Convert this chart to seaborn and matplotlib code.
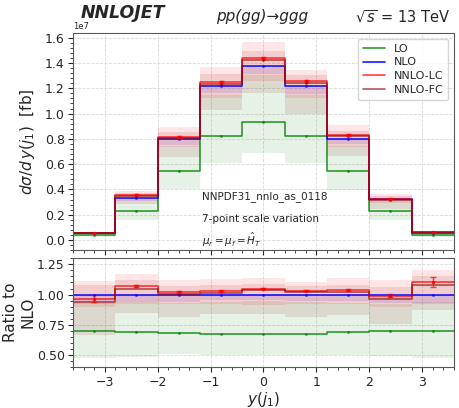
import numpy as np
import pandas as pd
import seaborn as sns
import matplotlib
matplotlib.use("Agg")
import matplotlib.pyplot as plt
from matplotlib.ticker import AutoMinorLocator, MultipleLocator

# bin edges in y(j1)
edges = [-3.6, -2.8, -2.0, -1.2, -0.4, 0.4, 1.2, 2.0, 2.8, 3.6]

# main panel central values, units of 1e7 fb
lo_main = [0.040, 0.232, 0.548, 0.826, 0.930, 0.826, 0.548, 0.232, 0.040]
nlo_main = [0.057, 0.332, 0.800, 1.217, 1.375, 1.217, 0.800, 0.327, 0.057]
lc_main = [0.055, 0.356, 0.817, 1.249, 1.440, 1.257, 0.830, 0.326, 0.063]
fc_main = [0.053, 0.349, 0.805, 1.235, 1.425, 1.240, 0.822, 0.316, 0.062]

# ratio panel central values (to NLO)
lo_ratio = [0.695, 0.692, 0.684, 0.676, 0.673, 0.676, 0.687, 0.695, 0.698]
nlo_ratio = [1.0, 1.0, 1.0, 1.0, 1.0, 1.0, 1.0, 1.0, 1.0]
lc_ratio = [0.967, 1.071, 1.022, 1.027, 1.050, 1.033, 1.038, 0.990, 1.104]
fc_ratio = [0.937, 1.050, 1.005, 1.014, 1.036, 1.019, 1.025, 0.965, 1.082]
lc_err = [0.030, 0.012, 0.008, 0.008, 0.006, 0.007, 0.008, 0.012, 0.038]

# scale variation bands, relative to NLO
lo_band_lo = [0.478, 0.486, 0.505, 0.500, 0.500, 0.500, 0.497, 0.495, 0.478]
lo_band_hi = [0.930, 0.940, 0.930, 0.940, 0.950, 0.940, 0.930, 0.920, 0.940]
nlo_band_lo = [0.920, 0.935, 0.940, 0.955, 0.955, 0.950, 0.945, 0.930, 0.920]
nlo_band_hi = [1.000, 1.000, 1.000, 1.000, 1.000, 1.000, 1.000, 1.000, 1.000]
lc_band_lo = [0.900, 0.920, 0.920, 0.925, 0.916, 0.920, 0.920, 0.900, 0.930]
lc_band_hi = [1.113, 1.168, 1.118, 1.126, 1.137, 1.104, 1.137, 1.118, 1.200]
fc_band_lo = [0.665, 0.850, 0.816, 0.843, 0.843, 0.816, 0.830, 0.760, 0.870]
fc_band_hi = [1.080, 1.120, 1.070, 1.080, 1.090, 1.070, 1.080, 1.060, 1.150]

names = ["LO", "NLO", "NNLO-LC", "NNLO-FC"]
colors = ["green", "blue", "red", "darkred"]
line_alpha = [0.8, 0.9, 0.75, 0.65]

sns.set_style("ticks")
plt.rcParams["font.family"] = ["DejaVu Sans"]
plt.rcParams["axes.edgecolor"] = "0.35"

fig = plt.figure(figsize=(4.59, 4.08), dpi=100)
ax = fig.add_axes([0.159, 0.387, 0.830, 0.532])
rax = fig.add_axes([0.159, 0.100, 0.830, 0.267], sharex=ax)

edges = np.array(edges)
centers = (edges[:-1] + edges[1:]) / 2
scale = 1e7
nlo_abs = np.array(nlo_main) * scale

mains = [lo_main, nlo_main, lc_main, fc_main]
ratios = [lo_ratio, nlo_ratio, lc_ratio, fc_ratio]
bands = [(lo_band_lo, lo_band_hi), (nlo_band_lo, nlo_band_hi),
         (lc_band_lo, lc_band_hi), (fc_band_lo, fc_band_hi)]


def ext(v):
    v = np.asarray(v, dtype=float)
    return np.append(v, v[-1])


for name, col, la, m, r, (blo, bhi) in zip(names, colors, line_alpha, mains, ratios, bands):
    mv = np.array(m) * scale
    # bands
    ax.fill_between(edges, ext(np.array(blo) * nlo_abs), ext(np.array(bhi) * nlo_abs),
                    step="post", color=col, alpha=0.1, lw=0)
    rax.fill_between(edges, ext(blo), ext(bhi), step="post", color=col, alpha=0.1, lw=0)
    # step lines
    df = pd.DataFrame({"x": edges, "y": ext(mv)})
    sns.lineplot(data=df, x="x", y="y", drawstyle="steps-post", color=col,
                 alpha=la, lw=1.2, ax=ax, label=name, sort=False, estimator=None)
    dfr = pd.DataFrame({"x": edges, "y": ext(r)})
    sns.lineplot(data=dfr, x="x", y="y", drawstyle="steps-post", color=col,
                 alpha=la, lw=1.2, ax=rax, sort=False, estimator=None, legend=False)
    ax.plot(centers, mv, "s", ms=1.0, color=col, alpha=0.6)

# MC errors on NNLO-LC
ax.errorbar(centers, np.array(lc_main) * scale, yerr=np.array(lc_err) * nlo_abs,
            fmt="s", ms=1.8, color="red", alpha=0.7, capsize=1.8, lw=1)
rax.errorbar(centers, lc_ratio, yerr=lc_err, fmt="s", ms=1.8, color="red",
             alpha=0.7, capsize=2, lw=1)
rax.plot(centers, lo_ratio, "s", ms=1.0, color="green", alpha=0.6)
rax.plot(centers, nlo_ratio, "s", ms=1.0, color="blue", alpha=0.6)

ax.set_xlim(-3.6, 3.6)
ax.set_ylim(-0.08e7, 1.637e7)
rax.set_ylim(0.4, 1.3)

ax.yaxis.set_major_locator(MultipleLocator(0.2e7))
ax.yaxis.set_minor_locator(AutoMinorLocator(5))
rax.xaxis.set_major_locator(MultipleLocator(1))
rax.xaxis.set_minor_locator(AutoMinorLocator(5))
rax.yaxis.set_major_locator(MultipleLocator(0.25))
rax.yaxis.set_minor_locator(AutoMinorLocator(5))
rax.yaxis.set_major_formatter(matplotlib.ticker.FormatStrFormatter("%.2f"))

for a in (ax, rax):
    a.grid(True, ls="--", color="0.85", lw=0.6)
    a.tick_params(labelsize=9, pad=2.5)
ax.tick_params(labelbottom=False)
ax.yaxis.get_offset_text().set_fontsize(6)

ax.set_xlabel("")
ax.set_ylabel(r"$d\sigma/d\,y(j_1)$  [fb]", fontsize=11)
rax.set_ylabel("Ratio to\nNLO", fontsize=11)
rax.set_xlabel(r"$y(j_1)$", fontsize=11)
ax.yaxis.set_label_coords(-0.094, 0.5)
rax.yaxis.set_label_coords(-0.098, 0.5)
rax.xaxis.set_label_coords(0.5, -0.205)

leg = ax.legend(loc="upper right", fontsize=8, framealpha=0.8,
                labelspacing=0.35, handlelength=2.0, borderpad=0.45)

ax.text(0.339, 0.249, "NNPDF31_nnlo_as_0118", transform=ax.transAxes, fontsize=7.5, va="center")
ax.text(0.339, 0.143, "7-point scale variation", transform=ax.transAxes, fontsize=7.5, va="center")
ax.text(0.339, 0.046, r"$\mu_r = \mu_f = \hat{H}_T$", transform=ax.transAxes, fontsize=7.5, va="center")

fig.text(0.268, 0.968, "NNLOJET", fontsize=12.5, fontweight="bold", fontstyle="italic",
         ha="center", va="center")
fig.text(0.571, 0.959, "pp(gg)→ggg", fontsize=11, fontstyle="italic", ha="center", va="center")
fig.text(0.98, 0.959, r"$\sqrt{s}$ = 13 TeV", fontsize=10.5, ha="right", va="center")

fig.savefig("out.png", dpi=100)
